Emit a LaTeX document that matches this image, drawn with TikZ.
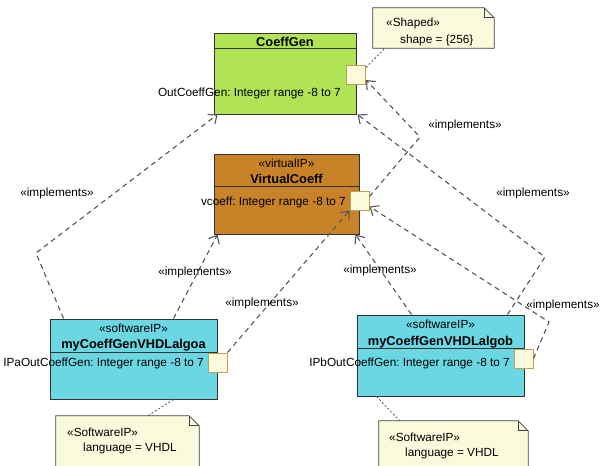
\documentclass[tikz,border=0pt]{standalone}
\usepackage{fontspec}
\setmainfont{Liberation Sans}
\usepackage{tikz}
\usetikzlibrary{arrows.meta}
\definecolor{coeffgreen}{RGB}{176, 228, 86}
\definecolor{virtorange}{RGB}{200, 131, 40}
\definecolor{softcyan}{RGB}{106, 215, 227}
\definecolor{notefill}{RGB}{250, 250, 220}
\definecolor{portedge}{RGB}{190, 160, 90}
\definecolor{linkgray}{RGB}{85, 85, 85}
\frenchspacing

\begin{document}
\begin{tikzpicture}[
   x=1pt, y=-1pt,
   every node/.style={font=\fontsize{11.8}{13}\selectfont, inner sep=0},
   classbox/.style={rectangle, draw=black!80, fill=#1, line width=1},
   portbox/.style={rectangle, draw=portedge, fill=notefill, line width=1,
                   minimum size=19},
   notebox/.style={rectangle, inner sep=0},
   notepath/.style={draw=black!75, fill=notefill, line width=0.8},
   titletext/.style={font=\fontsize{12.8}{14}\selectfont\bfseries},
   implarrow/.style={draw=linkgray, line width=1.1, dash pattern=on 5pt off 4pt,
                     -{Straight Barb[length=7pt, width=12pt]}},
   notelink/.style={draw=linkgray, line width=0.8, dash pattern=on 2pt off 2pt}
  ]

  \useasboundingbox (0, 0) rectangle (600, 466);
  \clip (0, 0) rectangle (600, 466);

  % Classes
  \node (CG) at (285, 73.5) [classbox=coeffgreen, minimum width=142, minimum height=81] {};
  \node (VC) at (286.5, 194) [classbox=virtorange, minimum width=145, minimum height=80] {};
  \node (SA) at (133.5, 359) [classbox=softcyan, minimum width=167, minimum height=80] {};
  \node (SB) at (440.5, 355.5) [classbox=softcyan, minimum width=167, minimum height=81] {};

  \draw[black!80, line width=1] ([yshift=-16]CG.north west) -- ([yshift=-16]CG.north east);
  \draw[black!80, line width=1] ([yshift=-33]VC.north west) -- ([yshift=-33]VC.north east);
  \draw[black!80, line width=1] ([yshift=-34]SA.north west) -- ([yshift=-34]SA.north east);
  \draw[black!80, line width=1] ([yshift=-34]SB.north west) -- ([yshift=-34]SB.north east);

  \node (CGname) at (285, 41.5) [titletext] {CoeffGen};
  \node (VCster) at (286.5, 163) {«virtualIP»};
  \node (VCname) at (286.5, 179) [titletext] {VirtualCoeff};
  \node (SAster) at (133.5, 328) {«softwareIP»};
  \node (SAname) at (133.5, 345) [titletext] {myCoeffGenVHDLalgoa};
  \node (SBster) at (440.5, 324) {«softwareIP»};
  \node (SBname) at (440.5, 342) [titletext] {myCoeffGenVHDLalgob};

  \node (CGattr) at (341, 93) [anchor=east] {OutCoeffGen: Integer range -8 to 7};
  \node (VCattr) at (346, 202) [anchor=east] {vcoeff: Integer range -8 to 7};
  \node (SAattr) at (204, 363) [anchor=east] {IPaOutCoeffGen: Integer range -8 to 7};
  \node (SBattr) at (510, 363) [anchor=east] {IPbOutCoeffGen: Integer range -8 to 7};

  % Ports
  \node (CGport) at (356, 74.5) [portbox] {};
  \node (VCport) at (359.5, 200.5) [portbox] {};
  \node (SAport) at (217.5, 362.5) [portbox] {};
  \node (SBport) at (523.5, 358.5) [portbox] {};

  % Notes
  \node (noteS) at (433.5, 28) [notebox, minimum width=121, minimum height=40] {};
  \node (noteA) at (127.5, 446) [notebox, minimum width=143, minimum height=60] {};
  \node (noteB) at (453.5, 451) [notebox, minimum width=149, minimum height=60] {};

  \foreach \N in {noteS, noteA, noteB} {
    \draw[notepath] (\N.north west) -- ([xshift=-10]\N.north east)
      -- ([yshift=-10]\N.north east) -- (\N.south east) -- (\N.south west) -- cycle;
    \draw[notepath, fill=none] ([xshift=-10]\N.north east) |- ([yshift=-10]\N.north east);
  }

  \node at (386, 23.5) [anchor=west] {«Shaped»};
  \node at (400, 40.5) [anchor=west] {shape = \{256\}};
  \node at (67, 432) [anchor=west] {«SoftwareIP»};
  \node at (83, 448) [anchor=west] {language = VHDL};
  \node at (389, 437) [anchor=west] {«SoftwareIP»};
  \node at (405, 453) [anchor=west] {language = VHDL};

  \draw[notelink] ([yshift=-3]CGport.north east) -- ([xshift=12]noteS.south west);
  \draw[notelink] ([xshift=124]SA.south west) -- ([xshift=92]noteA.north west);
  \draw[notelink] ([xshift=20]SB.south west) -- ([xshift=21]noteB.north west);

  % Realisations
  \coordinate (bendA) at (36, 253);
  \coordinate (bendB) at (545, 257);
  \coordinate (bendC) at (549, 322);
  \coordinate (bendD) at (420, 137);

  \draw[implarrow] ([xshift=14]SA.north west) -- (bendA) -- ([xshift=4]CG.south west);
  \draw[implarrow] ([xshift=124]SA.north west) -- ([xshift=4]VC.south west);
  \draw[implarrow] (SAport.north east) -- (VCport.south west);
  \draw[implarrow] ([xshift=55]SB.north west) -- ([xshift=-4]VC.south east);
  \draw[implarrow] ([xshift=151]SB.north west) -- (bendB) -- ([xshift=1]CG.south east);
  \draw[implarrow] (SBport.east) -- (bendC) -- ([yshift=-6]VCport.east);
  \draw[implarrow] ([yshift=-6]VCport.north east) -- (bendD) -- ([yshift=-5.5]CGport.east);

  \node at (57, 193) {«implements»};
  \node at (195, 272) {«implements»};
  \node at (262, 303) {«implements»};
  \node at (380, 270) {«implements»};
  \node at (533, 193) {«implements»};
  \node at (563, 305) {«implements»};
  \node at (465, 125) {«implements»};

\end{tikzpicture}
\end{document}
